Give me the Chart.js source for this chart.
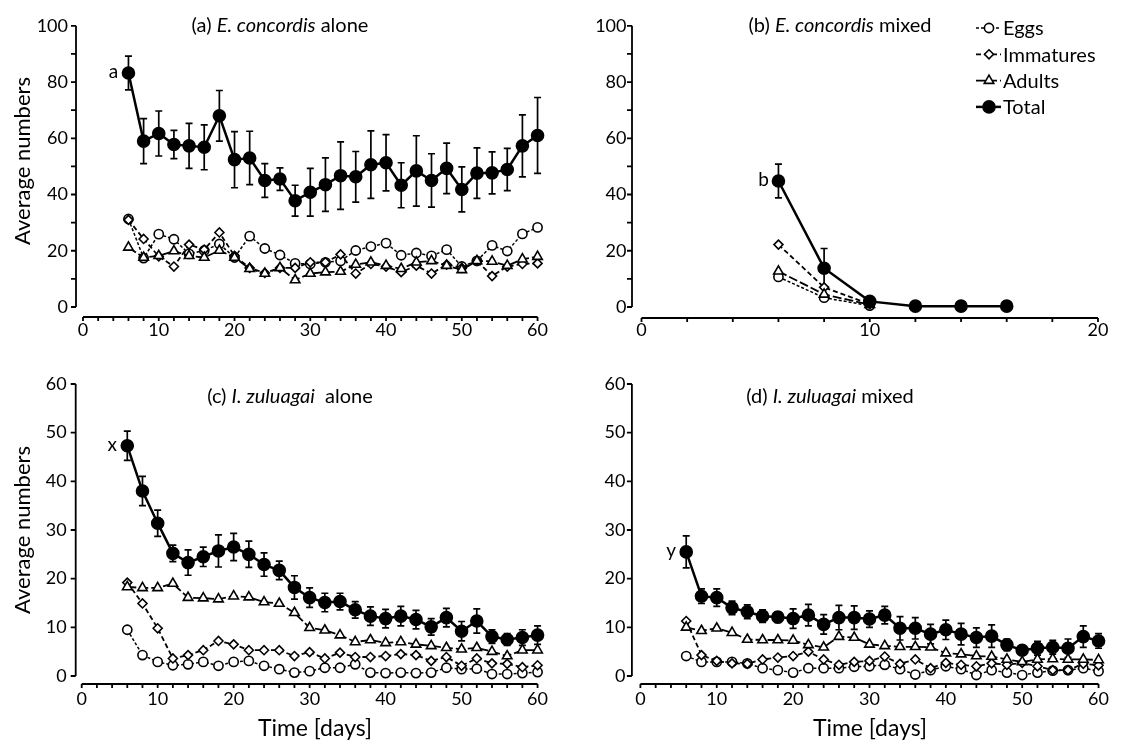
<!DOCTYPE html>
<html>
<head>
<meta charset="utf-8">
<script src="https://cdn.jsdelivr.net/npm/chart.js@4.4.1/dist/chart.umd.min.js"></script>
<style>
  body { margin: 0; background: #fff; font-family: Lato, sans-serif; }
  #wrap { position: relative; width: 1121px; height: 749px; overflow: hidden; }
  canvas { position: absolute; }
  .t { position: absolute; white-space: nowrap; color: #000; transform: translate(-50%, -50%); line-height: 1; }
  .rot { transform: translate(-50%, -50%) rotate(-90deg); }
</style>
</head>
<body>
<div id="wrap">
  <canvas id="ca" width="560" height="350" style="left:0;top:0"></canvas>
  <canvas id="cb" width="561" height="350" style="left:560px;top:0"></canvas>
  <canvas id="cc" width="560" height="399" style="left:0;top:350px"></canvas>
  <canvas id="cd" width="561" height="399" style="left:560px;top:350px"></canvas>

  <div class="t" style="left:280px;top:24px;font-size:20px">(a) <i>E. concordis</i> alone</div>
  <div class="t" style="left:840px;top:24px;font-size:20px">(b) <i>E. concordis</i> mixed</div>
  <div class="t" style="left:290px;top:395px;font-size:20px">(c) <i>I. zuluagai</i>&nbsp; alone</div>
  <div class="t" style="left:830px;top:395px;font-size:20px">(d) <i>I. zuluagai</i> mixed</div>

  <div class="t rot" style="left:22px;top:161px;font-size:22px">Average numbers</div>
  <div class="t rot" style="left:22px;top:530px;font-size:22px">Average numbers</div>
  <div class="t" style="left:315px;top:727px;font-size:23px">Time [days]</div>
  <div class="t" style="left:870px;top:727px;font-size:23px">Time [days]</div>
</div>

<script>
// (a) E. concordis alone
const daysA = [6, 8, 10, 12, 14, 16, 18, 20, 22, 24, 26, 28, 30, 32, 34, 36, 38, 40, 42, 44, 46, 48, 50, 52, 54, 56, 58, 60];
const eggsA = [31.3, 17.4, 25.9, 24.1, 18.9, 20.1, 22.4, 17.6, 25.2, 20.8, 18.5, 15.5, 15.3, 15.9, 16.4, 20.1, 21.5, 22.7, 18.4, 19.2, 18.2, 20.4, 14.4, 16.4, 21.9, 19.9, 26, 28.3];
const immA = [31, 24.2, 18, 14.4, 22.2, 20.4, 26.5, 18.2, 13.9, 12.1, 13.9, 13.9, 15.9, 15.9, 18.7, 11.9, 15.3, 14.4, 12.4, 14.7, 11.9, 15.1, 13.9, 16.4, 11, 14.4, 15.3, 15.5];
const adultsA = [21.2, 17.6, 18.2, 19.9, 18.2, 17.6, 20.1, 17.6, 13.6, 11.9, 13.9, 9.6, 11.9, 12.4, 12.6, 15.1, 15.9, 14.7, 13.6, 15.9, 16.4, 14.7, 13.2, 16.4, 16.2, 14.7, 17, 17.9];
const totalA = [83.2, 59, 61.7, 57.8, 57.3, 56.8, 68, 52.4, 53, 45, 45.5, 37.8, 40.8, 43.5, 46.7, 46.3, 50.6, 51.3, 43.3, 48.4, 45, 49.3, 41.8, 47.6, 47.7, 48.9, 57.3, 61];
const errA = [6, 8, 8, 5, 8, 8, 9, 10, 9.5, 6, 4, 5.5, 8.5, 9.5, 12, 9, 12, 10, 8, 12.5, 9.5, 9, 8, 9, 7.5, 7.5, 11, 13.5];

// (b) E. concordis mixed
const daysB = [6, 8, 10, 12, 14, 16];
const eggsB = [10.7, 3.3, 0.5, null, null, null];
const immB = [22.2, 7, 1, null, null, null];
const adultsB = [12.7, 4.5, 0.8, null, null, null];
const totalB = [44.8, 13.8, 2, 0.3, 0.3, 0.3];
const errB = [6, 7, 0, 0, 0, 0];

// (c) I. zuluagai alone
const daysC = daysA;
const eggsC = [9.5, 4.3, 2.9, 2.2, 2.4, 2.9, 2.1, 2.9, 3.1, 2.1, 1.4, 0.7, 1, 1.7, 1.7, 2.4, 0.7, 0.6, 0.7, 0.6, 0.7, 1.7, 1.4, 1.5, 0.4, 0.4, 0.6, 0.8];
const immC = [19.2, 14.9, 9.8, 3.6, 4.3, 5.3, 7.2, 6.5, 5.3, 5.3, 5.3, 4.1, 4.9, 3.6, 4.8, 3.9, 3.9, 4.1, 4.5, 4.3, 3.1, 3.9, 2.1, 3.6, 2.6, 2.5, 1.8, 2.2];
const adultsC = [18.3, 18.1, 18.1, 19, 16.1, 16, 15.8, 16.4, 16.2, 15.2, 14.9, 13, 9.9, 9.4, 8.4, 7, 7.4, 6.8, 7, 6.5, 6.2, 5.8, 5.5, 5.8, 5, 4.1, 5.3, 5.3];
const totalC = [47.3, 38, 31.4, 25.2, 23.3, 24.5, 25.7, 26.5, 25, 22.9, 21.7, 18.2, 16.1, 15.1, 15.3, 13.6, 12.3, 11.8, 12.3, 11.6, 10.1, 12, 9.2, 11.3, 8.1, 7.5, 7.9, 8.4];
const errC = [3, 3, 2.7, 1.7, 2.6, 2, 3.3, 2.8, 2.7, 2.4, 1.9, 2.4, 2, 1.9, 1.7, 1.7, 1.9, 1.9, 2, 1.9, 1.7, 1.9, 2, 2.5, 1.4, 1.2, 1.6, 1.9];

// (d) I. zuluagai mixed
const daysD = daysA;
const eggsD = [4.1, 2.9, 2.9, 2.9, 2.6, 1.6, 1.2, 0.7, 1.6, 1.6, 1.6, 1.9, 2, 2.3, 1.4, 0.3, 1.2, 2, 1.4, 0.2, 1.2, 0.7, 0.2, 0.7, 1.1, 1.2, 1.6, 1];
const immD = [11.3, 4.3, 3.1, 2.6, 2.5, 3.4, 3.8, 4.1, 5, 3.4, 2.3, 2.9, 3.1, 4, 2.5, 3.4, 1.6, 2.7, 2.3, 2, 2.6, 2.3, 2.7, 2, 1.2, 1.2, 2.5, 2.2];
const adultsD = [10, 9.3, 9.8, 8.9, 7.5, 7.4, 7.4, 7.3, 6.4, 5.9, 8.1, 7.9, 6.5, 6.2, 6, 6, 5.9, 4.7, 4.5, 4.1, 4, 3.4, 2.9, 3.4, 3.5, 3.4, 3.4, 3.3];
const totalD = [25.5, 16.4, 16.1, 14, 13.2, 12.3, 12.1, 11.8, 12.5, 10.6, 12, 12, 11.7, 12.5, 9.8, 9.8, 8.6, 9.5, 8.6, 7.9, 8.2, 6.4, 5.3, 5.7, 5.9, 5.7, 8.1, 7.2];
const errD = [3.3, 1.5, 1.8, 1.4, 1.4, 1.3, 1.1, 2, 2.2, 2, 2.5, 2.4, 1.7, 1.8, 2.4, 2.2, 2, 2, 2.2, 2, 2.3, 1.2, 0.9, 1.4, 1.4, 1.9, 2.2, 1.5];

const legendOrder = ['Eggs', 'Immatures', 'Adults', 'Total'];

Chart.defaults.font.family = 'Lato, sans-serif';
Chart.defaults.color = '#000';

function pts(days, vals) {
  return days.map((d, i) => ({ x: d, y: vals[i] }));
}

function makeSets(days, eggs, imm, adults, total, err) {
  const common = { borderColor: '#000', pointBorderColor: '#000', pointBackgroundColor: '#fff',
    fill: false, tension: 0, clip: false, pointBorderWidth: 1.6 };
  return [
    { ...common, label: 'Total', data: pts(days, total), errors: err, borderWidth: 2.5,
      pointStyle: 'circle', pointRadius: 6, pointBackgroundColor: '#000', order: 0 },
    { ...common, label: 'Adults', data: pts(days, adults), borderWidth: 1.8, borderDash: [9, 3],
      pointStyle: 'triangle', pointRadius: 5.5, order: 1 },
    { ...common, label: 'Immatures', data: pts(days, imm), borderWidth: 1.8, borderDash: [5, 3],
      pointStyle: 'rectRot', pointRadius: 4.5, order: 2 },
    { ...common, label: 'Eggs', data: pts(days, eggs), borderWidth: 1.5, borderDash: [3, 2],
      pointStyle: 'circle', pointRadius: 4.6, order: 3 },
  ];
}

function marker(ctx, ds, x, y) {
  ctx.save();
  ctx.setLineDash([]);
  ctx.fillStyle = ds.pointBackgroundColor;
  ctx.strokeStyle = '#000';
  ctx.lineWidth = ds.pointBorderWidth;
  Chart.helpers.drawPoint(ctx, { pointStyle: ds.pointStyle, radius: ds.pointRadius,
    borderWidth: ds.pointBorderWidth, rotation: 0 }, x, y);
  ctx.restore();
}

// error bars under the markers, Excel-like offset axes, point tag and legend
const framePlugin = {
  id: 'frame',
  beforeDatasetsDraw(chart) {
    const { ctx, scales: { x, y } } = chart;
    const ds = chart.data.datasets[0];
    ctx.save();
    ctx.strokeStyle = '#000';
    ctx.lineWidth = 1.7;
    ds.data.forEach((p, i) => {
      const e = ds.errors[i];
      if (!e) return;
      const px = x.getPixelForValue(p.x);
      const t = y.getPixelForValue(p.y + e), b = y.getPixelForValue(p.y - e);
      ctx.beginPath();
      ctx.moveTo(px, t); ctx.lineTo(px, b);
      ctx.moveTo(px - 3.5, t); ctx.lineTo(px + 3.5, t);
      ctx.moveTo(px - 3.5, b); ctx.lineTo(px + 3.5, b);
      ctx.stroke();
    });
    ctx.restore();
  },
  afterDraw(chart, args, o) {
    const { ctx, chartArea: a, scales: { x, y } } = chart;
    ctx.save();
    ctx.strokeStyle = '#000';
    ctx.lineWidth = 1.8;
    const ax = a.left - o.yGap;
    ctx.beginPath();
    ctx.moveTo(ax, y.getPixelForValue(y.max));
    ctx.lineTo(ax, y.getPixelForValue(y.min));
    for (let v = y.min; v <= y.max; v += o.yTick) {
      const py = y.getPixelForValue(v);
      ctx.moveTo(ax - 5, py); ctx.lineTo(ax, py);
    }
    const ay = a.bottom + o.xGap;
    ctx.moveTo(x.getPixelForValue(x.min), ay);
    ctx.lineTo(x.getPixelForValue(x.max), ay);
    for (let v = x.min; v <= x.max; v += 2) {
      const px = x.getPixelForValue(v);
      ctx.moveTo(px, ay); ctx.lineTo(px, ay + 4);
    }
    ctx.stroke();

    // letter beside the first total point
    const first = chart.getDatasetMeta(0).data[0];
    ctx.fillStyle = '#000';
    ctx.font = '19px Lato, sans-serif';
    ctx.textAlign = 'center';
    ctx.textBaseline = 'middle';
    ctx.fillText(o.tag, first.x - 15, first.y - 1);

    if (o.legend) {
      ctx.textAlign = 'left';
      ctx.font = '20px Lato, sans-serif';
      legendOrder.forEach((name, i) => {
        const ds = chart.data.datasets.find(d => d.label === name);
        const ly = 28 + i * 26.3;
        ctx.save();
        ctx.lineWidth = ds.borderWidth;
        ctx.setLineDash(ds.borderDash || []);
        ctx.beginPath();
        ctx.moveTo(416, ly); ctx.lineTo(441, ly);
        ctx.stroke();
        ctx.restore();
        marker(ctx, ds, 429, ly);
        ctx.fillText(name, 443, ly + 1);
      });
    }
    ctx.restore();
  },
};

function panel(id, w, h, area, xMax, yMax, yStep, sets, frame) {
  new Chart(document.getElementById(id), {
    type: 'line',
    data: { datasets: sets },
    plugins: [framePlugin],
    options: {
      responsive: false, animation: false, events: [],
      layout: { padding: { left: 0, top: area.t, right: w - area.r, bottom: 0 } },
      plugins: { legend: { display: false }, tooltip: { enabled: false }, frame },
      scales: {
        x: { type: 'linear', min: 0, max: xMax,
          ticks: { stepSize: 10, padding: 12, font: { size: 18 }, color: '#000' },
          grid: { display: false, drawTicks: false }, border: { display: false },
          afterFit: (s) => { s.height = h - area.b; } },
        y: { type: 'linear', min: 0, max: yMax,
          ticks: { stepSize: yStep, padding: 15, font: { size: 18 }, color: '#000' },
          grid: { display: false, drawTicks: false }, border: { display: false },
          afterFit: (s) => { s.width = area.l; } },
      },
    },
  });
}

panel('ca', 560, 350, { l: 83, r: 541.7, t: 15, b: 307 }, 60, 100, 20,
  makeSets(daysA, eggsA, immA, adultsA, totalA, errA), { yGap: 7, xGap: 10, yTick: 10, tag: 'a' });
panel('cb', 561, 350, { l: 81.5, r: 538, t: 15, b: 307 }, 20, 100, 20,
  makeSets(daysB, eggsB, immB, adultsB, totalB, errB), { yGap: 9.5, xGap: 11, yTick: 10, tag: 'b', legend: true });
panel('cc', 560, 399, { l: 81.7, r: 547.5, t: 34, b: 326 }, 60, 60, 10,
  makeSets(daysC, eggsC, immC, adultsC, totalC, errC), { yGap: 6, xGap: 8, yTick: 10, tag: 'x' });
panel('cd', 561, 399, { l: 80.4, r: 543, t: 34, b: 326 }, 60, 60, 10,
  makeSets(daysD, eggsD, immD, adultsD, totalD, errD), { yGap: 8.5, xGap: 8, yTick: 10, tag: 'y' });
</script>
</body>
</html>
